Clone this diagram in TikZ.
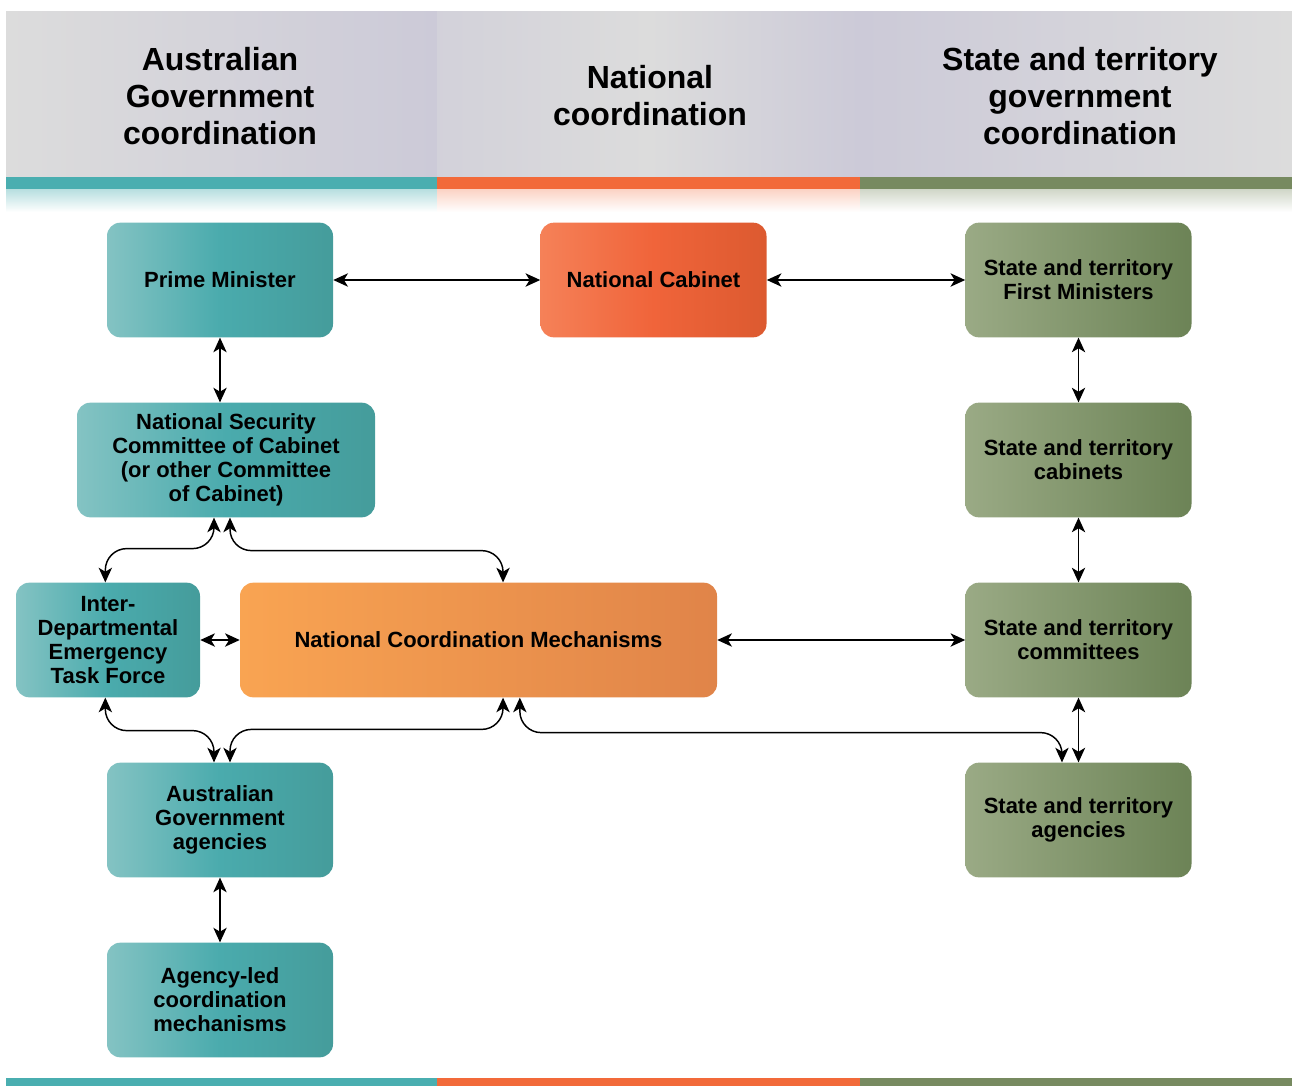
\documentclass[tikz,border=0pt]{standalone}
\usepackage{fontspec}
\setmainfont{Liberation Sans}
\usetikzlibrary{positioning}
\usetikzlibrary{arrows.meta}

\definecolor{tealbar}{HTML}{4AAEB0}
\definecolor{orangebar}{HTML}{F26A3A}
\definecolor{greenbar}{HTML}{778A60}
\definecolor{hdrgray}{HTML}{DCDCDC}
\definecolor{hdrlav}{HTML}{CCCAD8}
\definecolor{tealL}{HTML}{84C3C3}
\definecolor{tealM}{HTML}{4AABAD}
\definecolor{tealR}{HTML}{459C9B}
\definecolor{cabL}{HTML}{F58158}
\definecolor{cabM}{HTML}{F0643A}
\definecolor{cabR}{HTML}{DC5A30}
\definecolor{mechL}{HTML}{F9A452}
\definecolor{mechR}{HTML}{E08449}
\definecolor{stateL}{HTML}{9AAA85}
\definecolor{stateR}{HTML}{6C8356}

\begin{document}
\begin{tikzpicture}[
x=0.75pt, y=-0.75pt,
boxtext/.style={rectangle, rounded corners=10pt, minimum height=86pt, align=center,
  font=\bfseries\fontsize{16.5}{18}\selectfont},
govbox/.style={boxtext, minimum width=169.5pt, left color=tealL, right color=tealR, middle color=tealM},
natbox/.style={boxtext, minimum width=169.5pt, left color=cabL, right color=cabR, middle color=cabM},
mechbox/.style={boxtext, minimum width=357.75pt, left color=mechL, right color=mechR},
statebox/.style={boxtext, minimum width=169.5pt, left color=stateL, right color=stateR},
hdrtext/.style={align=center, font=\bfseries\fontsize{24}{27.75}\selectfont},
link/.style={{Stealth[length=11pt,width=10pt,inset=3pt]}-{Stealth[length=11pt,width=10pt,inset=3pt]}, line width=1.1pt},
bendlink/.style={link, rounded corners=16pt},
]
\useasboundingbox (0,0) rectangle (1292,1086);

%Header
\shade[left color=hdrgray, right color=hdrlav] (6,11) rectangle (437,177);
\shade[left color=hdrlav!60!hdrgray, right color=hdrlav, middle color=hdrgray] (437,11) rectangle (860,177);
\shade[left color=hdrlav, right color=hdrgray] (860,11) rectangle (1292,177);
\fill[tealbar] (6,177) rectangle (437,189);
\fill[orangebar] (437,177) rectangle (860,189);
\fill[greenbar] (860,177) rectangle (1292,189);
\shade[top color=tealbar!40, bottom color=white] (6,189) rectangle (437,212);
\shade[top color=orangebar!30, bottom color=white] (437,189) rectangle (860,212);
\shade[top color=greenbar!35, bottom color=white] (860,189) rectangle (1292,212);
\fill[tealbar] (6,1078) rectangle (437,1086);
\fill[orangebar] (437,1078) rectangle (860,1086);
\fill[greenbar] (860,1078) rectangle (1292,1086);

\node[hdrtext] (hdraus)   at (220,96)  {Australian\\Government\\coordination};
\node[hdrtext] (hdrnat)   at (650,96)  {National\\coordination};
\node[hdrtext] (hdrstate) at (1080,96) {State and territory\\government\\coordination};

%Nodes
\node[govbox] (pm)    at (220,280) {Prime Minister};
\node[govbox, minimum width=223.5pt] (nsc) at (226,460)
  {National Security\\Committee of Cabinet\\(or other Committee\\of Cabinet)};
\node[govbox, minimum width=138pt] (idetf) at (108,640)
  {Inter-\\Departmental\\Emergency\\Task Force};
\node[govbox] (aga)   at (220,820) {Australian\\Government\\agencies};
\node[govbox] (alc)   at (220,1000) {Agency-led\\coordination\\mechanisms};

\node[natbox]  (nc)   at (653.5,280) {National Cabinet};
\node[mechbox] (ncm)  at (478.5,640) {National Coordination Mechanisms};

\node[statebox] (sfm) at (1078.5,280) {State and territory\\First Ministers};
\node[statebox] (sca) at (1078.5,460) {State and territory\\cabinets};
\node[statebox] (sco) at (1078.5,640) {State and territory\\committees};
\node[statebox] (sag) at (1078.5,820) {State and territory\\agencies};

%Lines
\draw[link] (pm.east) -- (nc.west);
\draw[link] (nc.east) -- (sfm.west);
\draw[link] (pm.south) -- ([xshift=-4.5pt]nsc.north);
\draw[link] (sfm.south) -- (sca.north);
\draw[link] (sca.south) -- (sco.north);
\draw[link] (sco.south) -- (sag.north);
\draw[link] (idetf.east) -- (ncm.west);
\draw[link] (ncm.east) -- (sco.west);
\draw[link] (aga.south) -- (alc.north);

\draw[bendlink] ([xshift=-9pt]nsc.south) -- ++(0,31) -| ([xshift=-2pt]idetf.north);
\draw[bendlink] ([xshift=3pt]nsc.south) -- ++(0,33) -| ([xshift=18.4pt]ncm.north);
\draw[bendlink] ([xshift=-2pt]idetf.south) -- ++(0,33) -| ([xshift=-4.5pt]aga.north);
\draw[bendlink] ([xshift=7.5pt]aga.north) -- ++(0,-33) -| ([xshift=18.4pt]ncm.south);
\draw[bendlink] ([xshift=31pt]ncm.south) -- ++(0,35) -| ([xshift=-12.4pt]sag.north);
\end{tikzpicture}
\end{document}
